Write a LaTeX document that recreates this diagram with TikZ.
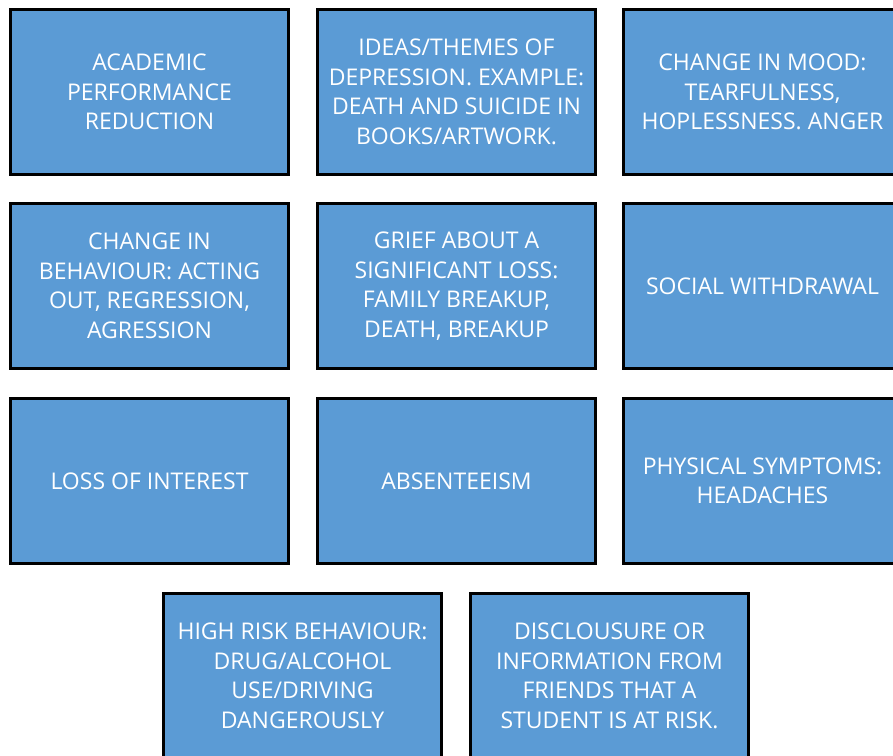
\documentclass[tikz,border=0pt]{standalone}
\usepackage{fontspec}
\setmainfont{Open Sans}
\definecolor{boxblue}{HTML}{5B9BD5}
\begin{document}
\begin{tikzpicture}[x=1pt,y=-1pt,
  sign/.style={draw=black, line width=3pt, fill=boxblue, text=white,
    minimum width=278pt, minimum height=165pt, inner sep=0pt,
    align=center, font=\fontsize{23}{29.5}\selectfont}]
  \useasboundingbox (0,0) rectangle (893,755);
  % first row
  \node[sign] (academic) at (149.5,92) {ACADEMIC\\PERFORMANCE\\REDUCTION};
  \node[sign] (ideas) at (456.5,92) {IDEAS/THEMES OF\\DEPRESSION. EXAMPLE:\\DEATH AND SUICIDE IN\\BOOKS/ARTWORK.};
  \node[sign] (mood) at (762.5,92) {CHANGE IN MOOD:\\TEARFULNESS,\\HOPLESSNESS. ANGER};
  % second row
  \node[sign] (behaviour) at (149.5,286) {CHANGE IN\\BEHAVIOUR: ACTING\\OUT, REGRESSION,\\AGRESSION};
  \node[sign] (grief) at (456.5,286) {GRIEF ABOUT A\\SIGNIFICANT LOSS:\\FAMILY BREAKUP,\\DEATH, BREAKUP};
  \node[sign] (withdrawal) at (762.5,286) {SOCIAL WITHDRAWAL};
  % third row
  \node[sign] (interest) at (149.5,481) {LOSS OF INTEREST};
  \node[sign] (absent) at (456.5,481) {ABSENTEEISM};
  \node[sign] (physical) at (762.5,481) {PHYSICAL SYMPTOMS:\\HEADACHES};
  % fourth row
  \node[sign] (risk) at (302.5,676) {HIGH RISK BEHAVIOUR:\\DRUG/ALCOHOL\\USE/DRIVING\\DANGEROUSLY};
  \node[sign] (disclosure) at (609.5,676) {DISCLOUSURE OR\\INFORMATION FROM\\FRIENDS THAT A\\STUDENT IS AT RISK.};
\end{tikzpicture}
\end{document}
